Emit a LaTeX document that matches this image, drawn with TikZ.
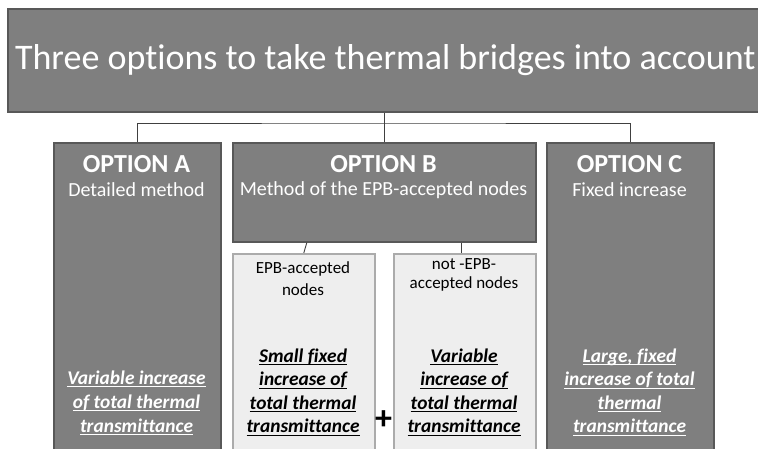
\documentclass[tikz,border=0pt]{standalone}
\usepackage{fontspec}
\setmainfont{Carlito}[Ligatures=NoCommon]
\newlength\ulw
\newcommand\myul[1]{\settowidth{\ulw}{#1}\rlap{\rule[-3pt]{\ulw}{1pt}}#1}
\definecolor{darkbox}{HTML}{7F7F7F}
\definecolor{darkborder}{HTML}{585858}
\definecolor{lightbox}{HTML}{EEEEEE}
\definecolor{lightborder}{HTML}{ABABAB}
\definecolor{conn}{HTML}{404040}
\tikzset{
  dbox/.style={draw=darkborder, line width=1.6pt, fill=darkbox, anchor=north west, inner sep=0pt, text=white},
  lbox/.style={draw=lightborder, line width=1.6pt, fill=lightbox, anchor=north west, inner sep=0pt},
  conline/.style={draw=conn, line width=0.9pt},
  hd/.style={font=\fontsize{26}{30}\selectfont\bfseries, text=white, inner sep=0pt},
  sub/.style={font=\fontsize{20}{24}\selectfont, text=white, inner sep=0pt},
  res/.style={align=center, inner sep=0pt, font=\fontsize{19.4}{24}\selectfont\bfseries\itshape},
  small/.style={align=center, inner sep=0pt, font=\fontsize{17}{20}\selectfont}
}
\begin{document}
\begin{tikzpicture}[x=1pt,y=-1pt]
\clip (0,0) rectangle (758,448);
\fill[white] (0,0) rectangle (758,448);
% title
\node[dbox, minimum width=755pt, minimum height=103pt, font=\fontsize{36}{40}\selectfont] (title) at (7,8) {\raisebox{2pt}{Three options to take thermal bridges into account}};
% options
\node[dbox, minimum width=167pt, minimum height=320pt] (A) at (53,142) {};
\node[dbox, minimum width=303pt, minimum height=99pt] (B) at (232,142) {};
\node[dbox, minimum width=167pt, minimum height=320pt] (C) at (546,142) {};
\node[lbox, minimum width=142pt, minimum height=210pt] (E) at (232,253) {};
\node[lbox, minimum width=142pt, minimum height=210pt] (N) at (393,253) {};
% connectors
\coordinate (bus) at (383.5,123);
\draw[conline] (title.south -| B.north) -- (B.north);
\draw[conline] (A.north) |- (bus) -| (C.north);
\draw[conline] ([xshift=3pt]E.north |- B.south) -- (E.north);
\draw[conline] ([xshift=-3pt]N.north |- B.south) -- ([xshift=-3pt]N.north);
% headings
\node[hd] (Ah) at (136.5,164) {OPTION A};
\node[sub] (As) at (136.5,190) {Detailed method};
\node[hd] (Bh) at (383.5,164) {OPTION B};
\node[sub] (Bs) at (383.5,190) {Method of the EPB-accepted nodes};
\node[hd] (Ch) at (629.5,164) {OPTION C};
\node[sub] (Cs) at (629.5,190) {Fixed increase};
% sub box labels
\node[small, font=\fontsize{17}{22}\selectfont] (Et) at (303,279) {EPB-accepted\\nodes};
\node[small, font=\fontsize{17}{18.5}\selectfont] (Nt) at (464,275) {not -EPB-\\accepted nodes};
% results
\node[res, text=white] (Ar) at (136.5,403) {\myul{Variable increase}\\\myul{of total thermal}\\\myul{transmittance}};
\node[res, font=\fontsize{19.4}{23.5}\selectfont\bfseries\itshape] (Er) at (303,392) {\myul{Small fixed}\\\myul{increase of}\\\myul{total thermal}\\\myul{transmittance}};
\node[res, font=\fontsize{19.4}{23.5}\selectfont\bfseries\itshape] (Nr) at (464,392) {\myul{Variable}\\\myul{increase of}\\\myul{total thermal}\\\myul{transmittance}};
\node[res, text=white, font=\fontsize{19.4}{23.5}\selectfont\bfseries\itshape] (Cr) at (629.5,392) {\myul{Large, fixed}\\\myul{increase of total}\\\myul{thermal}\\\myul{transmittance}};
\node[inner sep=0pt, font=\fontsize{34}{34}\selectfont\bfseries] (plus) at (383.5,420) {+};
\end{tikzpicture}
\end{document}
